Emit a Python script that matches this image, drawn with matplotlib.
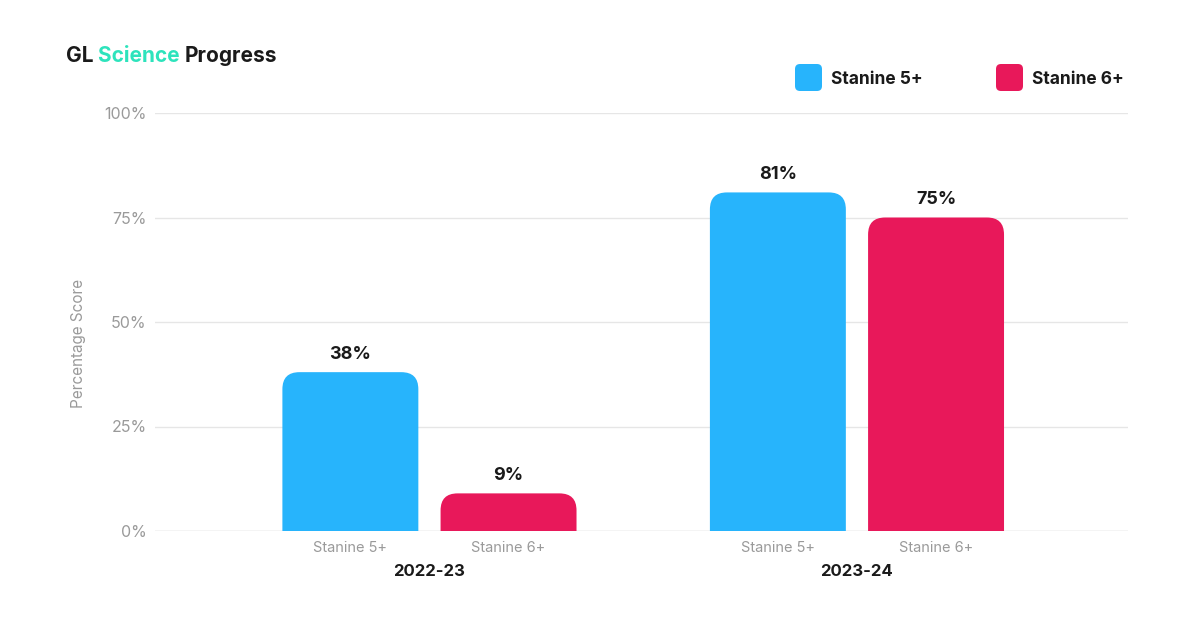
import numpy as np
import matplotlib.pyplot as plt
from matplotlib.patches import FancyBboxPatch
from matplotlib.transforms import blended_transform_factory

plt.rcParams['font.family'] = ['Inter', 'DejaVu Sans']

years = ["2022-23", "2023-24"]
series = ["Stanine 5+", "Stanine 6+"]
stanine5 = [38, 81]
stanine6 = [9, 75]
colors = ["#27B4FC", "#E8185A"]

DARK = "#1A1A1A"
GREY = "#9A9A9A"
TEAL = "#2DE3BC"


def rounded_bar(ax, x, h, w, color, r_px=17):
    # rounded top corners; the bottom ones are pushed below 0 and clipped
    fig = ax.figure
    fig.canvas.draw()
    p0 = ax.transData.transform((0, 0))
    p1 = ax.transData.transform((1, 1))
    rx = r_px / (p1[0] - p0[0])
    ry = r_px / (p1[1] - p0[1])
    patch = FancyBboxPatch((x - w / 2, -ry), w, h + ry,
                           boxstyle=f"round,pad=0,rounding_size={rx}",
                           mutation_aspect=ry / rx, fc=color, ec="none",
                           zorder=3)
    ax.add_patch(patch)


fig = plt.figure(figsize=(12, 6.31), dpi=100)
ax = fig.add_axes([155 / 1200, 100 / 631, 973 / 1200, 418 / 631])
ax.set_xlim(-0.642, 1.634)
ax.set_ylim(0, 100)

for s in ax.spines.values():
    s.set_visible(False)
ax.set_yticks([0, 25, 50, 75, 100])
ax.set_yticklabels([f"{v}%" for v in [0, 25, 50, 75, 100]],
                   color=GREY, fontsize=11.5)
ax.grid(axis="y", color="#E6E6E6", lw=1, zorder=0)
ax.axhline(0, color="#DDDDDD", lw=1, zorder=1)
ax.tick_params(axis="y", length=0, pad=6)

pos = np.arange(len(years))
offset = 0.185
width = 0.318
xt = []
xl = []
for i, vals in enumerate([stanine5, stanine6]):
    xs = pos + (-offset if i == 0 else offset)
    for x, v in zip(xs, vals):
        rounded_bar(ax, x, v, width, colors[i])
        ax.text(x, v + 2.2, f"{v}%", ha="center", va="bottom",
                fontsize=13, fontweight="bold", color=DARK)
        xt.append(x)
        xl.append(series[i])

ax.set_xticks(xt)
ax.set_xticklabels(xl, color=GREY, fontsize=10.5)
ax.tick_params(axis="x", length=0, pad=7)

tr = blended_transform_factory(ax.transData, fig.transFigure)
for p, y in zip(pos, years):
    ax.text(p, 1 - 572 / 631, y, transform=tr, ha="center", va="center",
            fontsize=12, fontweight="bold", color=DARK)

fig.text(78 / 1200, 1 - 343 / 631, "Percentage Score", rotation=90,
         ha="center", va="center", color=GREY, fontsize=11)

# title with coloured middle word
ty = 1 - 56 / 631
t1 = fig.text(66 / 1200, ty, "GL ", fontsize=15, fontweight="bold",
              color=DARK, va="center", ha="left")
fig.canvas.draw()
bb = t1.get_window_extent()
t2 = fig.text(bb.x1 / 1200, ty, "Science ", fontsize=15,
              fontweight="bold", color=TEAL, va="center", ha="left")
fig.canvas.draw()
bb = t2.get_window_extent()
fig.text(bb.x1 / 1200, ty, "Progress", fontsize=15,
         fontweight="bold", color=DARK, va="center", ha="left")

# legend
for lx, name, c in zip([795, 996], series, colors):
    sq = FancyBboxPatch((lx / 1200, 1 - 91 / 631), 27 / 1200, 27 / 631,
                        boxstyle=f"round,pad=0,rounding_size={5 / 1200}",
                        mutation_aspect=1200 / 631, fc=c, ec="none",
                        transform=fig.transFigure)
    fig.add_artist(sq)
    fig.text((lx + 36) / 1200, 1 - 80 / 631, name, fontsize=12.5,
             fontweight="bold", color=DARK, va="center", ha="left")

fig.savefig("out.png", dpi=100)
